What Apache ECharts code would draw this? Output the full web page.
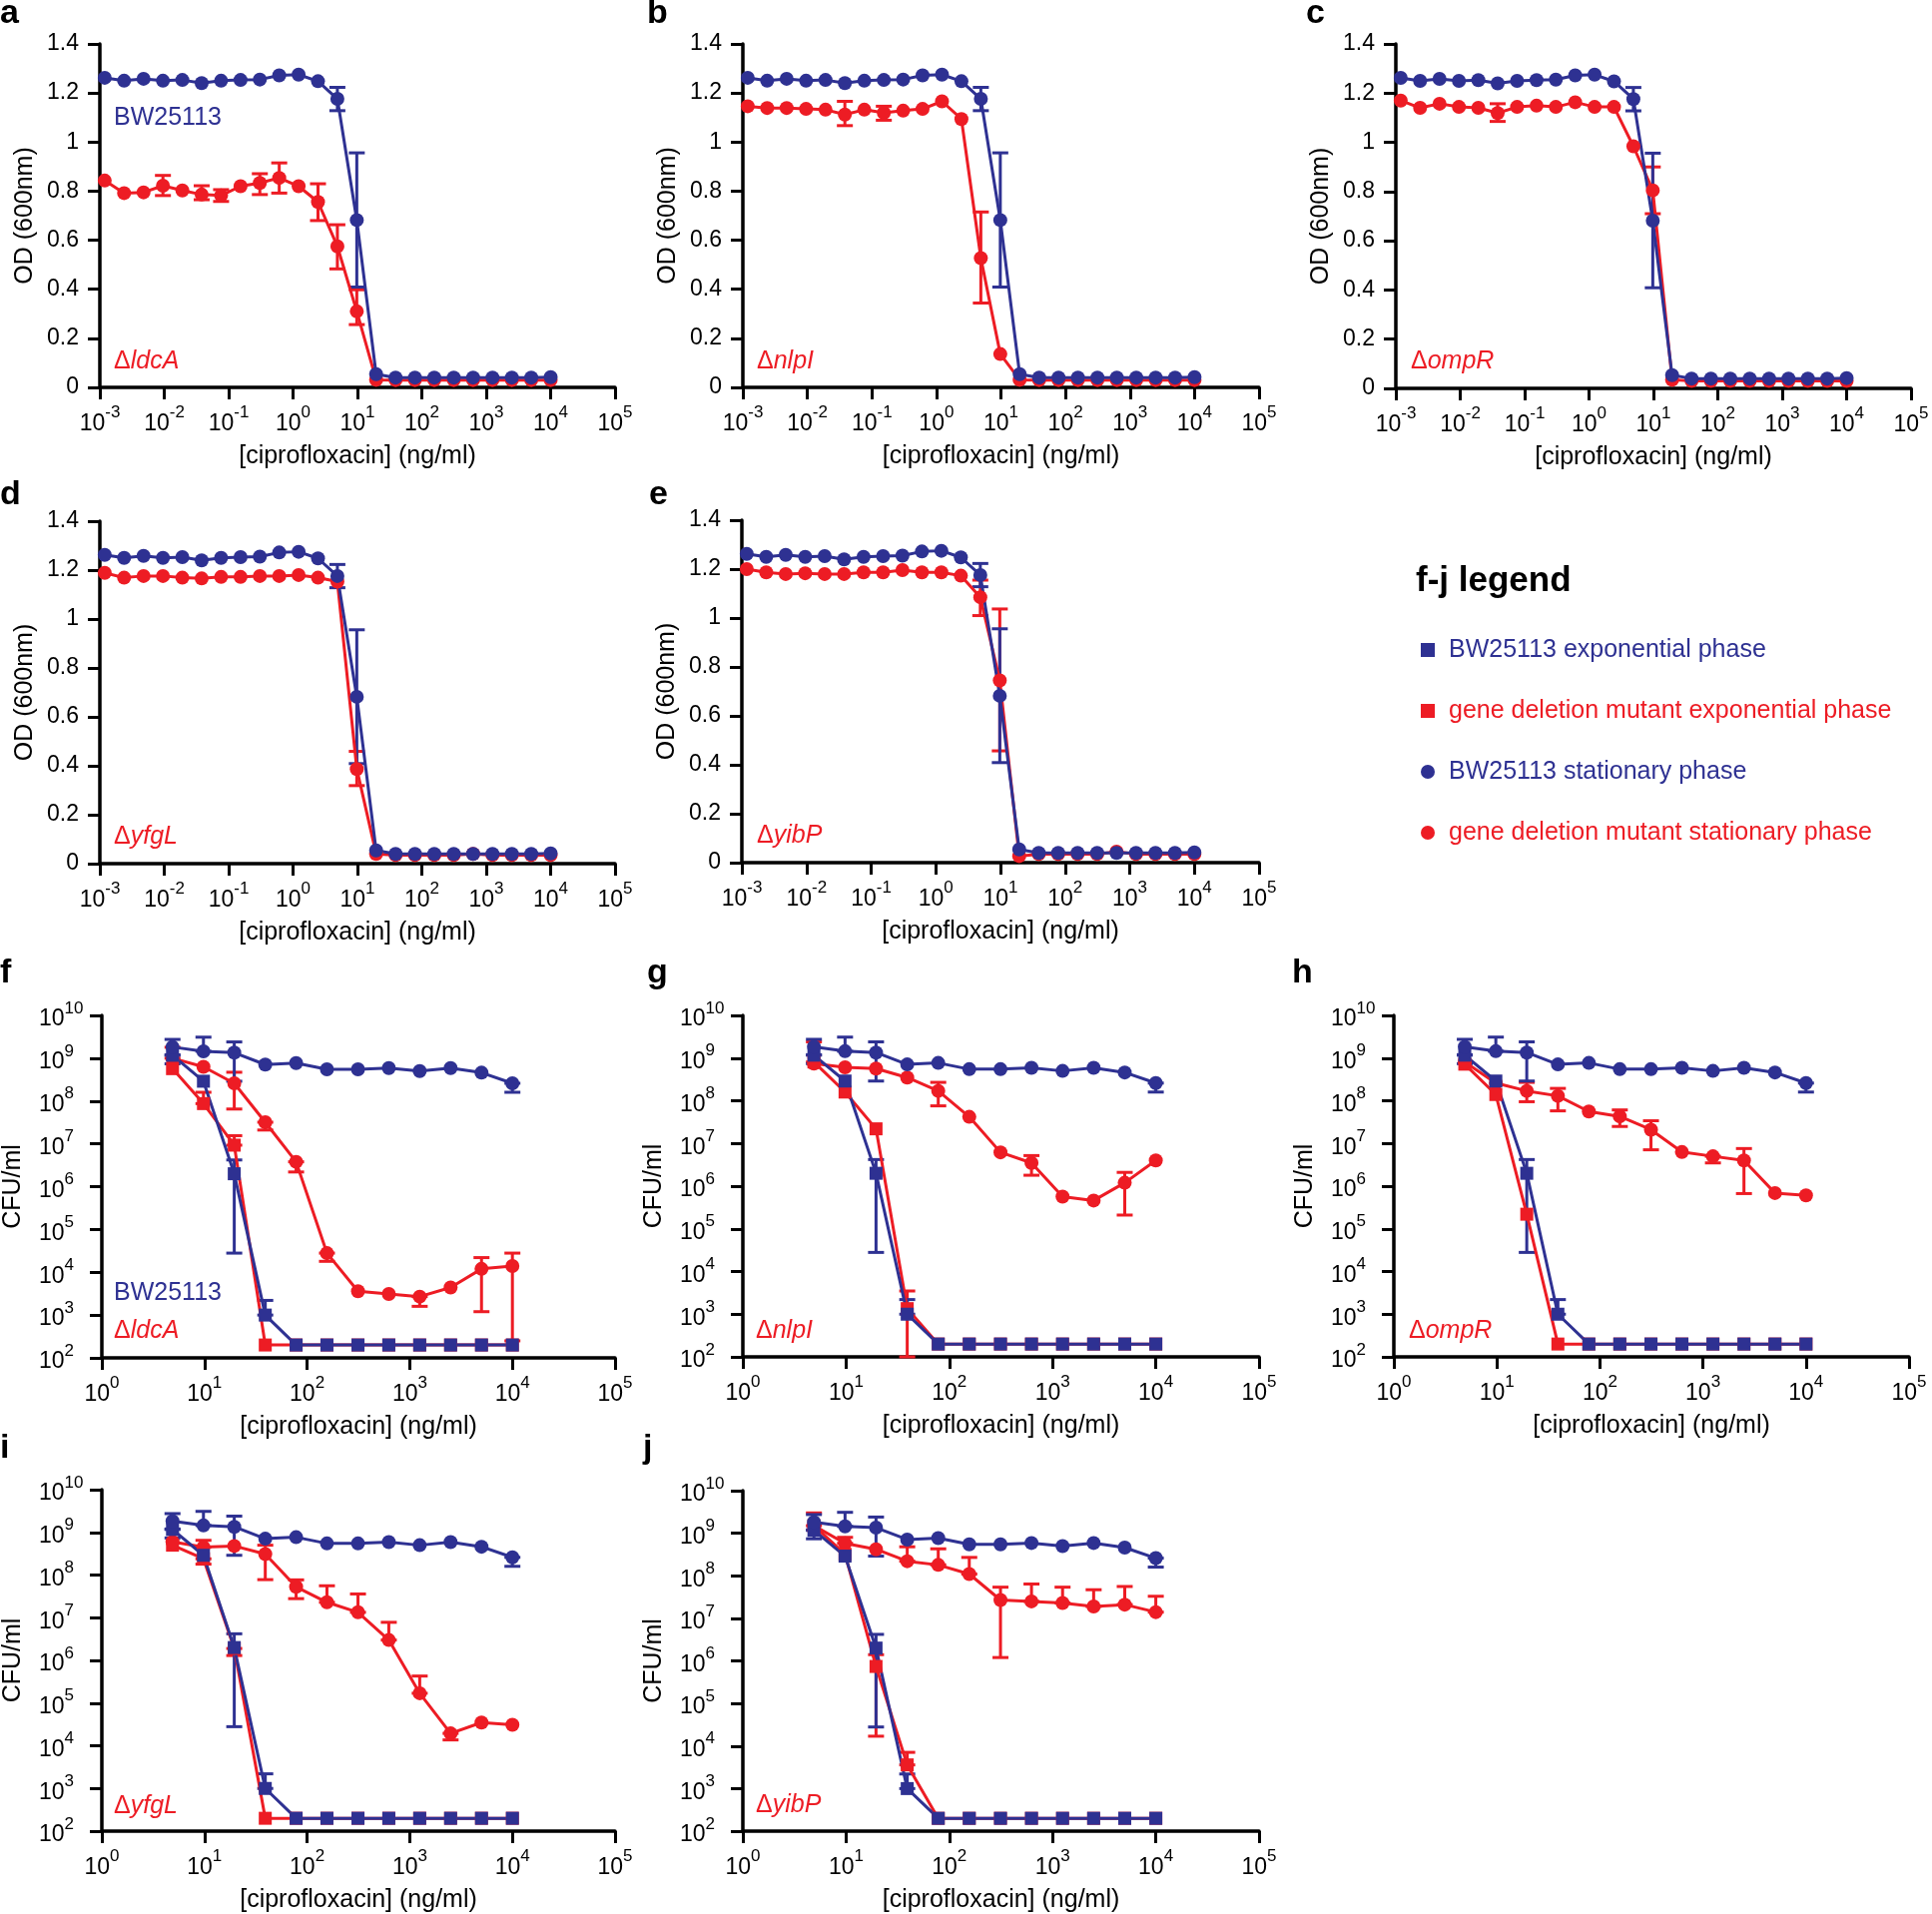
<!DOCTYPE html>
<html><head><meta charset="utf-8">
<script src="https://cdn.jsdelivr.net/npm/echarts@6/dist/echarts.min.js"></script>
<style>html,body{margin:0;padding:0;background:#fff}#c{width:1935px;height:1917px}</style>
</head><body><div id="c"></div>
<script>
// ---------------- DATA ----------------
// OD panels (a-e): dose in ng/ml
const odDose = [0.00119, 0.00238, 0.00477, 0.00954, 0.0191, 0.0381, 0.0763, 0.153, 0.305, 0.610, 1.22, 2.44, 4.88, 9.77, 19.5, 39.1, 78.1, 156, 313, 625, 1250, 2500, 5000, 10000];
const odWT = [1.262, 1.250, 1.258, 1.250, 1.253, 1.240, 1.250, 1.253, 1.255, 1.272, 1.275, 1.248, 1.176, 0.682, 0.054, 0.040, 0.040, 0.040, 0.040, 0.040, 0.040, 0.040, 0.040, 0.042];
const odWTErr = [[4.88, 1.128, 1.223], [9.77, 0.409, 0.956]];
const odLdcA = [0.843, 0.792, 0.795, 0.822, 0.803, 0.786, 0.782, 0.820, 0.833, 0.854, 0.820, 0.756, 0.575, 0.310, 0.031, 0.030, 0.030, 0.030, 0.030, 0.030, 0.030, 0.030, 0.030, 0.030];
const odLdcAErr = [[0.00954, 0.782, 0.864], [0.0381, 0.765, 0.822], [0.0763, 0.758, 0.806], [0.305, 0.786, 0.871], [0.610, 0.792, 0.915], [2.44, 0.680, 0.830], [4.88, 0.483, 0.663], [9.77, 0.256, 0.398]];
const odNlpI = [1.146, 1.139, 1.139, 1.135, 1.132, 1.112, 1.132, 1.119, 1.128, 1.135, 1.166, 1.094, 0.527, 0.136, 0.031, 0.030, 0.030, 0.030, 0.030, 0.030, 0.030, 0.030, 0.030, 0.030];
const odNlpIErr = [[0.0381, 1.067, 1.166], [0.153, 1.089, 1.146], [4.88, 0.344, 0.715]];
const odOmpR = [1.170, 1.140, 1.157, 1.144, 1.140, 1.119, 1.144, 1.149, 1.144, 1.163, 1.144, 1.144, 0.984, 0.805, 0.035, 0.030, 0.030, 0.030, 0.030, 0.030, 0.030, 0.030, 0.030, 0.030];
const odOmpRErr = [[0.0381, 1.085, 1.157], [9.77, 0.710, 0.900]];
const odYfgL = [1.189, 1.169, 1.176, 1.176, 1.169, 1.166, 1.172, 1.172, 1.176, 1.176, 1.180, 1.169, 1.153, 0.387, 0.040, 0.035, 0.035, 0.035, 0.035, 0.040, 0.035, 0.035, 0.035, 0.035];
const odYfgLErr = [[9.77, 0.319, 0.459]];
const odYibP = [1.200, 1.187, 1.180, 1.183, 1.180, 1.180, 1.187, 1.187, 1.196, 1.187, 1.187, 1.173, 1.085, 0.745, 0.027, 0.035, 0.035, 0.035, 0.035, 0.045, 0.035, 0.035, 0.035, 0.035];
const odYibPErr = [[4.88, 1.010, 1.155], [9.77, 0.457, 1.037]];

// CFU panels (f-j)
const cfuDose = [4.88, 9.77, 19.5, 39.1, 78.1, 156, 313, 625, 1250, 2500, 5000, 10000];
const wtExp = [1.17e9, 2.9e8, 2.0e6, 1.0e3, 200, 200, 200, 200, 200, 200, 200, 200];
const wtExpErr = [[4.88, 7.4e8, 1.17e9], [19.5, 2.8e4, 4.2e6], [39.1, 1.0e3, 2.2e3]];
const wtStat = [1.83e9, 1.45e9, 1.35e9, 7.1e8, 7.7e8, 5.5e8, 5.5e8, 5.9e8, 5.0e8, 5.9e8, 4.6e8, 2.6e8];
const wtStatErr = [[4.88, 1.2e9, 2.75e9], [9.77, 1.45e9, 3.1e9], [19.5, 2.9e8, 2.4e9], [10000, 1.6e8, 2.6e8]];

const ldcAExp = [5.7e8, 8.7e7, 9.3e6, 200, 200, 200, 200, 200, 200, 200, 200, 200];
const ldcAExpErr = [[9.77, 8.7e7, 1.6e8], [19.5, 9.3e6, 1.55e7]];
const ldcAStat = [1.0e9, 6.3e8, 2.6e8, 3.2e7, 3.8e6, 2.8e4, 3.6e3, 3.1e3, 2.7e3, 4.4e3, 1.2e4, 1.4e4];
const ldcAStatErr = [[4.88, 1.0e9, 1.8e9], [19.5, 6.5e7, 4.7e8], [39.1, 2.1e7, 3.2e7], [78.1, 2.2e6, 3.8e6], [156, 1.8e4, 2.8e4], [1250, 1.6e3, 2.7e3], [5000, 1.2e3, 2.2e4], [10000, 250, 2.8e4]];

const nlpIExp = [8.1e8, 1.6e8, 2.2e7, 1.35e3, 200, 200, 200, 200, 200, 200, 200, 200];
const nlpIExpErr = [[4.88, 8.1e8, 2.4e9], [39.1, 100, 3.5e3]];
const nlpIStat = [7.4e8, 6.1e8, 5.7e8, 3.5e8, 1.7e8, 4.2e7, 6.2e6, 3.5e6, 5.7e5, 4.6e5, 1.2e6, 4.0e6];
const nlpIStatErr = [[78.1, 7.6e7, 2.7e8], [625, 1.8e6, 5.2e6], [5000, 2.1e5, 2.1e6]];

const ompRExp = [7.2e8, 1.4e8, 2.2e5, 200, 200, 200, 200, 200, 200, 200, 200, 200];
const ompRExpErr = [];
const ompRStat = [8.1e8, 2.6e8, 1.7e8, 1.3e8, 5.6e7, 4.3e7, 2.1e7, 6.3e6, 5.0e6, 4.0e6, 6.9e5, 6.1e5];
const ompRStatErr = [[19.5, 9.5e7, 2.7e8], [39.1, 5.8e7, 1.95e8], [156, 2.5e7, 6.1e7], [313, 7.1e6, 3.4e7], [1250, 3.5e6, 5.0e6], [2500, 6.7e5, 7.6e6]];

const yfgLExp = [5.0e8, 2.4e8, 1.9e6, 200, 200, 200, 200, 200, 200, 200, 200, 200];
const yfgLExpErr = [[9.77, 1.8e8, 2.4e8], [19.5, 1.3e6, 1.9e6]];
const yfgLStat = [6.0e8, 4.5e8, 4.8e8, 3.1e8, 5.3e7, 2.3e7, 1.34e7, 3.0e6, 1.7e5, 1.95e4, 3.5e4, 3.1e4];
const yfgLStatErr = [[9.77, 4.5e8, 6.5e8], [39.1, 7.8e7, 5.0e8], [78.1, 2.8e7, 7.7e7], [156, 2.3e7, 5.6e7], [313, 1.34e7, 3.6e7], [625, 3.0e6, 7.8e6], [1250, 1.7e5, 4.3e5], [2500, 1.37e4, 1.95e4]];

const yibPExp = [1.5e9, 3.2e8, 7.4e5, 3.6e3, 200, 200, 200, 200, 200, 200, 200, 200];
const yibPExpErr = [[4.88, 1.5e9, 3.0e9], [19.5, 1.7e4, 1.4e6], [39.1, 3.6e3, 7.1e3]];
const yibPStat = [1.5e9, 5.8e8, 4.2e8, 2.2e8, 1.8e8, 1.1e8, 2.7e7, 2.5e7, 2.3e7, 1.9e7, 2.1e7, 1.4e7];
const yibPStatErr = [[9.77, 5.8e8, 8.0e8], [39.1, 2.2e8, 4.8e8], [78.1, 1.8e8, 4.3e8], [156, 1.1e8, 2.7e8], [313, 1.2e6, 5.4e7], [625, 2.5e7, 6.4e7], [1250, 2.3e7, 5.4e7], [2500, 1.9e7, 4.7e7], [5000, 2.1e7, 5.6e7], [10000, 1.4e7, 3.3e7]];

const genes = ['ldcA', 'nlpI', 'ompR', 'yfgL', 'yibP'];
const legendNames = ['BW25113 exponential phase', 'gene deletion mutant exponential phase', 'BW25113 stationary phase', 'gene deletion mutant stationary phase'];
const xTitle = '[ciprofloxacin] (ng/ml)';

const odMutants = [[odLdcA, odLdcAErr], [odNlpI, odNlpIErr], [odOmpR, odOmpRErr], [odYfgL, odYfgLErr], [odYibP, odYibPErr]];
const cfuMutants = [
  [ldcAExp, ldcAExpErr, ldcAStat, ldcAStatErr],
  [nlpIExp, nlpIExpErr, nlpIStat, nlpIStatErr],
  [ompRExp, ompRExpErr, ompRStat, ompRStatErr],
  [yfgLExp, yfgLExpErr, yfgLStat, yfgLStatErr],
  [yibPExp, yibPExpErr, yibPStat, yibPStatErr]
];

// ---------------- LAYOUT / STYLE ----------------
const BLUE = '#2E3192', RED = '#ED1C24';
const FONT = '"Liberation Sans", Arial, sans-serif';
const gridRects = [
  [100, 44, 516, 344], [744, 44, 517, 344], [1398, 44, 516, 345],
  [100, 522, 516, 343], [743, 521, 518, 343],
  [100, 1017, 516, 343], [744, 1017, 517, 342], [1396, 1017, 516, 342],
  [100, 1492, 516, 343], [744, 1493, 517, 343]
];
const letters = ['a', 'b', 'c', 'd', 'e', 'f', 'g', 'h', 'i', 'j'];
const letterPos = [[0, 14], [648, 14], [1308, 14], [0, 496], [650, 496], [0, 975], [648, 975], [1294, 975], [0, 1451], [644, 1451]];
const genePos = [[114, 362], [758, 362], [1413, 362], [114, 838], [758, 837], [114, 1333], [757, 1333], [1411, 1333], [114, 1809], [757, 1808]];
const strainPos = [[114, 118], [114, 1295]];

function pairs(xs, ys) { return xs.map((x, i) => [x, ys[i]]); }
const expFmt = v => '{b|10}{s|' + Math.round(Math.log10(v)) + '}';
const richLab = {
  b: { fontSize: 23, fontFamily: FONT, color: '#000', lineHeight: 31, verticalAlign: 'bottom' },
  s: { fontSize: 17, fontFamily: FONT, color: '#000', lineHeight: 17, verticalAlign: 'top' }
};
const axisLineStyle = { show: true, onZero: false, lineStyle: { color: '#000', width: 3.5 } };
const tickStyle = { show: true, inside: false, length: 12, lineStyle: { color: '#000', width: 3 } };
const nameStyle = { fontSize: 25, fontFamily: FONT, color: '#000' };

function errSeries(data, color, idx) {
  return {
    type: 'custom', xAxisIndex: idx, yAxisIndex: idx, data: data, silent: true, clip: false,
    encode: { x: 0, y: [1, 2] },
    renderItem: function (params, api) {
      const x = api.value(0), lo = api.value(1), hi = api.value(2);
      const t = api.coord([x, hi]), b = api.coord([x, lo]);
      const w = 8, st = { stroke: color, lineWidth: 3 };
      return { type: 'group', children: [
        { type: 'line', shape: { x1: t[0], y1: t[1], x2: b[0], y2: b[1] }, style: st },
        { type: 'line', shape: { x1: t[0] - w, y1: t[1], x2: t[0] + w, y2: t[1] }, style: st },
        { type: 'line', shape: { x1: b[0] - w, y1: b[1], x2: b[0] + w, y2: b[1] }, style: st }
      ] };
    }
  };
}
function lineSeries(name, xs, ys, color, symbol, size, idx) {
  return {
    type: 'line', name: name, xAxisIndex: idx, yAxisIndex: idx, data: pairs(xs, ys),
    symbol: symbol, symbolSize: size, showSymbol: true, clip: false, silent: true,
    lineStyle: { color: color, width: 3 }, itemStyle: { color: color }
  };
}

const grid = [], xAxis = [], yAxis = [], series = [], graphic = [];
gridRects.forEach(r => grid.push({ left: r[0], top: r[1], width: r[2], height: r[3], containLabel: false }));

for (let i = 0; i < 10; i++) {
  const isOD = i < 5;
  xAxis.push({
    type: 'log', logBase: 10, gridIndex: i, min: isOD ? 0.001 : 1, max: 100000, splitNumber: isOD ? 8 : 5,
    axisLine: axisLineStyle, axisTick: tickStyle, splitLine: { show: false }, minorTick: { show: false },
    axisLabel: { formatter: expFmt, rich: richLab, margin: 17, color: '#000' },
    name: xTitle, nameLocation: 'middle', nameGap: 57, nameTextStyle: nameStyle
  });
  if (isOD) {
    yAxis.push({
      type: 'value', gridIndex: i, min: 0, max: 1.4, interval: 0.2,
      axisLine: axisLineStyle, axisTick: tickStyle, splitLine: { show: false },
      axisLabel: { fontSize: 23, fontFamily: FONT, color: '#000', margin: 21 },
      name: 'OD (600nm)', nameLocation: 'middle', nameGap: 62, nameRotate: 90, nameTextStyle: nameStyle
    });
  } else {
    yAxis.push({
      type: 'log', logBase: 10, gridIndex: i, min: 100, max: 1e10, splitNumber: 8,
      axisLine: axisLineStyle, axisTick: tickStyle, splitLine: { show: false }, minorTick: { show: false },
      axisLabel: { formatter: expFmt, rich: richLab, margin: 63, align: 'left', color: '#000' },
      name: 'CFU/ml', nameLocation: 'middle', nameGap: 76, nameRotate: 90, nameTextStyle: nameStyle
    });
  }
}

// OD panels
odMutants.forEach((m, i) => {
  series.push(errSeries(m[1], RED, i));
  series.push(lineSeries('mutant OD', odDose, m[0], RED, 'circle', 14, i));
  series.push(errSeries(odWTErr, BLUE, i));
  series.push(lineSeries('BW25113 OD', odDose, odWT, BLUE, 'circle', 14, i));
});
// CFU panels
cfuMutants.forEach((m, k) => {
  const i = k + 5;
  series.push(errSeries(m[1], RED, i));
  series.push(lineSeries(legendNames[1], cfuDose, m[0], RED, 'rect', 13, i));
  series.push(errSeries(m[3], RED, i));
  series.push(lineSeries(legendNames[3], cfuDose, m[2], RED, 'circle', 14, i));
  series.push(errSeries(wtExpErr, BLUE, i));
  series.push(lineSeries(legendNames[0], cfuDose, wtExp, BLUE, 'rect', 13, i));
  series.push(errSeries(wtStatErr, BLUE, i));
  series.push(lineSeries(legendNames[2], cfuDose, wtStat, BLUE, 'circle', 14, i));
});

// panel letters
letters.forEach((l, i) => graphic.push({
  type: 'text', x: letterPos[i][0], y: letterPos[i][1], silent: true,
  style: { text: l, fontSize: 34, fontWeight: 'bold', fontFamily: FONT, fill: '#000', verticalAlign: 'middle', align: 'left' }
}));
// gene annotations
genePos.forEach((p, i) => {
  const g = genes[i % 5];
  graphic.push({
    type: 'text', x: p[0], y: p[1], silent: true,
    style: { text: '{d|Δ}{g|' + g + '}', verticalAlign: 'middle', align: 'left',
      rich: { d: { fontSize: 25, fontFamily: FONT, fill: RED, color: RED },
              g: { fontSize: 25, fontFamily: FONT, fontStyle: 'italic', fill: RED, color: RED } } }
  });
});
// strain labels in a and f
strainPos.forEach(p => graphic.push({
  type: 'text', x: p[0], y: p[1], silent: true,
  style: { text: 'BW25113', fontSize: 25, fontFamily: FONT, fill: BLUE, verticalAlign: 'middle', align: 'left' }
}));
// legend title
graphic.push({
  type: 'text', x: 1418, y: 582, silent: true,
  style: { text: 'f-j legend', fontSize: 35, fontWeight: 'bold', fontFamily: FONT, fill: '#000', verticalAlign: 'middle', align: 'left' }
});

const legendColors = [BLUE, RED, BLUE, RED];
const legendIcons = ['rect', 'rect', 'circle', 'circle'];
const option = {
  animation: false,
  backgroundColor: '#fff',
  grid, xAxis, yAxis, series, graphic,
  legend: {
    orient: 'vertical', left: 1418, top: 633, itemWidth: 14, itemHeight: 14, itemGap: 35,
    selectedMode: false,
    textStyle: { fontSize: 25, fontFamily: FONT, lineHeight: 26, padding: [0, 0, 0, 9] },
    data: legendNames.map((n, i) => ({ name: n, icon: legendIcons[i], textStyle: { color: legendColors[i] } }))
  }
};
const chart = echarts.init(document.getElementById('c'), null, { renderer: 'canvas' });
chart.setOption(option);
</script>
</body></html>
